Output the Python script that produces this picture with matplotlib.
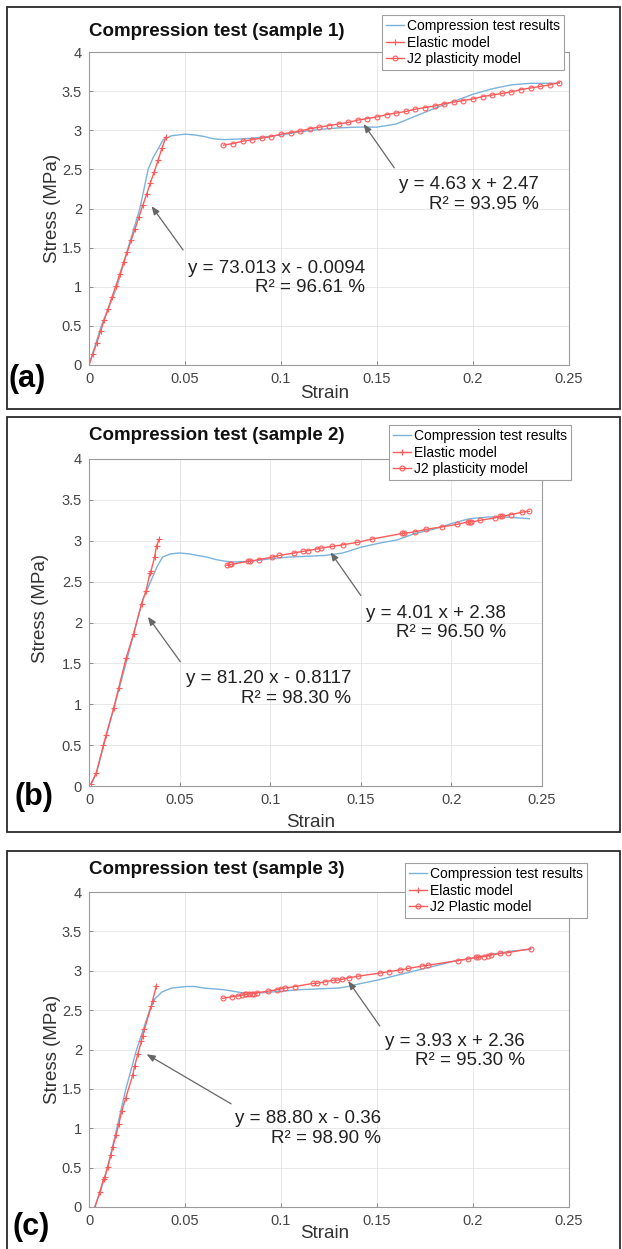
import matplotlib
matplotlib.use("Agg")
import matplotlib.pyplot as plt
from matplotlib.patches import Rectangle
from matplotlib.ticker import FormatStrFormatter
import numpy as np

plt.rcParams['font.family'] = ['Liberation Sans', 'DejaVu Sans']

# ---------------- sample 1 ----------------
exp1_x = [0, 0.0064, 0.0146, 0.0204, 0.0265, 0.0308, 0.0334, 0.0387, 0.043, 0.05, 0.055,
          0.06, 0.065, 0.07, 0.08, 0.09, 0.10, 0.11, 0.12, 0.13, 0.14, 0.15, 0.16, 0.17,
          0.18, 0.19, 0.20, 0.21, 0.22, 0.23, 0.24, 0.245]
exp1_y = [0, 0.5, 1.0, 1.5, 2.0, 2.5, 2.65, 2.88, 2.93, 2.95, 2.94,
          2.92, 2.89, 2.88, 2.89, 2.91, 2.94, 2.98, 3.01, 3.03, 3.04, 3.04, 3.08, 3.18,
          3.28, 3.37, 3.46, 3.53, 3.58, 3.60, 3.60, 3.60]
ela1_x = [0, 0.002, 0.004, 0.006, 0.008, 0.010, 0.012, 0.014, 0.016, 0.018, 0.020,
          0.022, 0.024, 0.026, 0.028, 0.030, 0.032, 0.034, 0.036, 0.038, 0.040]
ela1_y = [0, 0.14, 0.28, 0.43, 0.58, 0.72, 0.87, 1.01, 1.16, 1.31, 1.45,
          1.60, 1.74, 1.89, 2.04, 2.18, 2.33, 2.47, 2.62, 2.77, 2.91]
j21_x = [0.070, 0.075, 0.080, 0.085, 0.090, 0.095, 0.100, 0.105, 0.110, 0.115, 0.120, 0.125,
         0.130, 0.135, 0.140, 0.145, 0.150, 0.155, 0.160, 0.165, 0.170, 0.175, 0.180, 0.185,
         0.190, 0.195, 0.200, 0.205, 0.210, 0.215, 0.220, 0.225, 0.230, 0.235, 0.240, 0.245]
j21_y = [2.81, 2.83, 2.86, 2.88, 2.90, 2.92, 2.95, 2.97, 2.99, 3.02, 3.04, 3.06,
         3.08, 3.10, 3.13, 3.15, 3.17, 3.20, 3.22, 3.24, 3.27, 3.29, 3.31, 3.34,
         3.36, 3.38, 3.40, 3.43, 3.45, 3.47, 3.49, 3.52, 3.54, 3.56, 3.58, 3.61]

# ---------------- sample 2 ----------------
exp2_x = [0.001, 0.004, 0.0081, 0.0143, 0.0204, 0.0263, 0.030, 0.034, 0.0375, 0.0406, 0.045,
          0.05, 0.055, 0.06, 0.065, 0.07, 0.075, 0.08, 0.09, 0.10, 0.11, 0.12, 0.13, 0.14,
          0.15, 0.16, 0.17, 0.175, 0.18, 0.19, 0.20, 0.21, 0.22, 0.23, 0.243]
exp2_y = [0.02, 0.15, 0.5, 1.0, 1.5, 2.0, 2.3, 2.5, 2.68, 2.8, 2.84,
          2.85, 2.84, 2.82, 2.80, 2.77, 2.75, 2.74, 2.75, 2.78, 2.80, 2.81, 2.82, 2.85,
          2.92, 2.97, 3.01, 3.05, 3.09, 3.14, 3.21, 3.27, 3.29, 3.29, 3.27]
ela2_x = [0.001, 0.004, 0.008, 0.0094, 0.0136, 0.0164, 0.0204, 0.0246, 0.029, 0.0314,
          0.0336, 0.0342, 0.0362, 0.0373, 0.0388]
ela2_y = [0.02, 0.16, 0.50, 0.62, 0.95, 1.20, 1.56, 1.86, 2.23, 2.38,
          2.60, 2.63, 2.80, 2.94, 3.02]
j22_x = [0.076, 0.078, 0.0785, 0.088, 0.089, 0.094, 0.101, 0.105, 0.113, 0.118, 0.121,
         0.126, 0.128, 0.134, 0.140, 0.148, 0.156, 0.173, 0.174, 0.180, 0.186, 0.195,
         0.203, 0.209, 0.210, 0.211, 0.216, 0.224, 0.227, 0.228, 0.233, 0.239, 0.243]
j22_y = [2.70, 2.71, 2.71, 2.75, 2.75, 2.77, 2.80, 2.82, 2.85, 2.87, 2.88,
         2.90, 2.91, 2.93, 2.95, 2.98, 3.02, 3.09, 3.09, 3.11, 3.14, 3.17,
         3.20, 3.23, 3.23, 3.23, 3.25, 3.28, 3.30, 3.30, 3.32, 3.35, 3.36]

# ---------------- sample 3 ----------------
exp3_x = [0.003, 0.006, 0.0097, 0.0145, 0.0192, 0.0248, 0.0316, 0.0345, 0.038, 0.043,
          0.0506, 0.055, 0.06, 0.07, 0.08, 0.09, 0.10, 0.11, 0.12, 0.13, 0.135, 0.14,
          0.15, 0.16, 0.17, 0.18, 0.19, 0.20, 0.21, 0.22, 0.23]
exp3_y = [0, 0.2, 0.5, 1.0, 1.5, 2.0, 2.5, 2.65, 2.73, 2.78,
          2.80, 2.80, 2.78, 2.76, 2.72, 2.72, 2.74, 2.76, 2.77, 2.78, 2.80, 2.83,
          2.88, 2.94, 3.00, 3.06, 3.12, 3.16, 3.21, 3.25, 3.27]
ela3_x = [0.0031, 0.0056, 0.0076, 0.0082, 0.0097, 0.0114, 0.0124, 0.014, 0.0155, 0.0171,
          0.0192, 0.0227, 0.0238, 0.0254, 0.0273, 0.0279, 0.0289, 0.0324, 0.0331, 0.0351]
ela3_y = [0, 0.19, 0.36, 0.38, 0.51, 0.66, 0.76, 0.91, 1.05, 1.22,
          1.39, 1.67, 1.79, 1.94, 2.11, 2.17, 2.26, 2.55, 2.62, 2.81]
j23_x = [0.0696, 0.0744, 0.0775, 0.0795, 0.0812, 0.0820, 0.0833, 0.0847, 0.0857, 0.0874,
         0.0930, 0.0981, 0.0998, 0.1023, 0.1074, 0.1167, 0.1188, 0.1229, 0.1271, 0.1291,
         0.1316, 0.1353, 0.1399, 0.1514, 0.1564, 0.1622, 0.1663, 0.1736, 0.1767, 0.1921,
         0.1973, 0.2014, 0.2025, 0.2056, 0.2076, 0.2093, 0.2143, 0.2180, 0.2300]
j23_y = [2.65, 2.67, 2.68, 2.69, 2.70, 2.70, 2.71, 2.71, 2.71, 2.72,
         2.74, 2.76, 2.77, 2.78, 2.80, 2.84, 2.84, 2.86, 2.88, 2.88,
         2.89, 2.91, 2.93, 2.97, 2.99, 3.01, 3.03, 3.06, 3.07, 3.13,
         3.15, 3.17, 3.17, 3.18, 3.19, 3.20, 3.22, 3.23, 3.28]

titles = ['Compression test (sample 1)', 'Compression test (sample 2)', 'Compression test (sample 3)']
panel_tags = ['(a)', '(b)', '(c)']
j2_names = ['J2 plasticity model', 'J2 plasticity model', 'J2 Plastic model']
fit_elastic = ['y = 73.013 x - 0.0094\nR\u00b2 = 96.61 %',
               'y = 81.20 x - 0.8117\nR\u00b2 = 98.30 %',
               'y = 88.80 x - 0.36\nR\u00b2 = 98.90 %']
fit_plastic = ['y = 4.63 x + 2.47\nR\u00b2 = 93.95 %',
               'y = 4.01 x + 2.38\nR\u00b2 = 96.50 %',
               'y = 3.93 x + 2.36\nR\u00b2 = 95.30 %']

W, H = 622, 1249
fig = plt.figure(figsize=(W / 100, H / 100), dpi=100)

def fx(px):
    return px / W

def fy(py):
    return 1 - py / H

# layout in pixels: axes (left, right, top, bottom), frame (top, bottom), title y, tag pos, legend (right, top)
axes_px = [(89, 569, 52, 365), (89, 542, 459, 786), (89, 569, 892, 1207)]
frame_px = [(7.5, 409), (417, 832), (851, 1262)]
title_y = [32, 435, 870]
tag_pos = [(8, 379), (14, 797), (12, 1227)]
legend_px = [(564, 15), (571, 425), (587, 863)]
xlab_y = [-0.064, -0.086, -0.058]
ylab_x = [-0.058, -0.088, -0.058]
ylab_y = [0.5, 0.544, 0.5]
# annotation positions (data units): text right x, text center y, arrow head, arrow tail
ann_el = [(0.144, 1.113, (0.0326, 2.03), (0.049, 1.47)),
          (0.1447, 1.19, (0.0325, 2.07), (0.0504, 1.52)),
          (0.1523, 0.995, (0.030, 1.94), (0.074, 1.31))]
ann_pl = [(0.2345, 2.18, (0.143, 3.08), (0.159, 2.52)),
          (0.230, 1.995, (0.1333, 2.86), (0.150, 2.33)),
          (0.227, 1.98, (0.135, 2.87), (0.1514, 2.30))]

exp_x = [exp1_x, exp2_x, exp3_x]
exp_y = [exp1_y, exp2_y, exp3_y]
ela_x = [ela1_x, ela2_x, ela3_x]
ela_y = [ela1_y, ela2_y, ela3_y]
j2_x = [j21_x, j22_x, j23_x]
j2_y = [j21_y, j22_y, j23_y]

blue = '#7ab3dc'
red = '#ff5a5a'

for i in range(3):
    l, r, t, b = axes_px[i]
    ax = fig.add_axes([fx(l), fy(b), fx(r - l), (b - t) / H])

    h1, = ax.plot(exp_x[i], exp_y[i], color=blue, lw=1.0, label='Compression test results')
    h2, = ax.plot(ela_x[i], ela_y[i], color=red, lw=1.0, marker='+', ms=4, mew=0.8,
                  label='Elastic model')
    h3, = ax.plot(j2_x[i], j2_y[i], color=red, lw=1.0, marker='o', ms=3.5, mfc='none',
                  mew=0.8, label=j2_names[i])

    ax.set_xlim(0, 0.25)
    ax.set_ylim(0, 4)
    ax.set_xticks(np.arange(0, 0.2501, 0.05))
    ax.set_yticks(np.arange(0, 4.01, 0.5))
    ax.xaxis.set_major_formatter(FormatStrFormatter('%g'))
    ax.yaxis.set_major_formatter(FormatStrFormatter('%g'))
    ax.grid(True, color='#e4e4e4', lw=0.6)
    ax.set_axisbelow(True)
    for s in ax.spines.values():
        s.set_color('#9a9a9a')
        s.set_linewidth(0.8)
    ax.tick_params(direction='in', length=3, width=0.7, color='#8a8a8a',
                   labelsize=10.5, labelcolor='#444444', pad=5)

    ax.set_xlabel('Strain', fontsize=13.5, color='#333333')
    ax.set_ylabel('Stress (MPa)', fontsize=13.5, color='#333333')
    ax.xaxis.set_label_coords(0.49, xlab_y[i])
    ax.yaxis.set_label_coords(ylab_x[i], ylab_y[i])

    for (tx, ty, head, tail), txt in [(ann_el[i], fit_elastic[i]), (ann_pl[i], fit_plastic[i])]:
        ax.annotate('', xy=head, xytext=tail,
                    arrowprops=dict(arrowstyle='-|>,head_length=0.5,head_width=0.2',
                                    color='#666666', lw=0.9, shrinkA=0, shrinkB=0))
        ax.text(tx, ty, txt, ha='right', va='center', multialignment='right',
                fontsize=13.5, color='#222222')

    lr, lt = legend_px[i]
    leg = fig.legend(handles=[h1, h2, h3], loc='upper right',
                     bbox_to_anchor=(fx(lr), fy(lt)), bbox_transform=fig.transFigure,
                     fontsize=10, frameon=True, fancybox=False, framealpha=1,
                     edgecolor='#a0a0a0', handlelength=1.3, handletextpad=0.2,
                     labelspacing=0.18, borderpad=0.3, borderaxespad=0)
    leg.get_frame().set_linewidth(0.8)

    fig.text(fx(l), fy(title_y[i]), titles[i], ha='left', va='center',
             fontsize=13.5, fontweight='bold', color='#111111')
    fig.text(fx(tag_pos[i][0]), fy(tag_pos[i][1]), panel_tags[i], ha='left', va='center',
             fontsize=22, fontweight='bold', color='black')

    ft, fb = frame_px[i]
    fig.add_artist(Rectangle((fx(7), fy(fb)), fx(613), (fb - ft) / H,
                             transform=fig.transFigure, fill=False, ec='#2a2a2a', lw=1.3))

fig.savefig('out.png', dpi=100)
